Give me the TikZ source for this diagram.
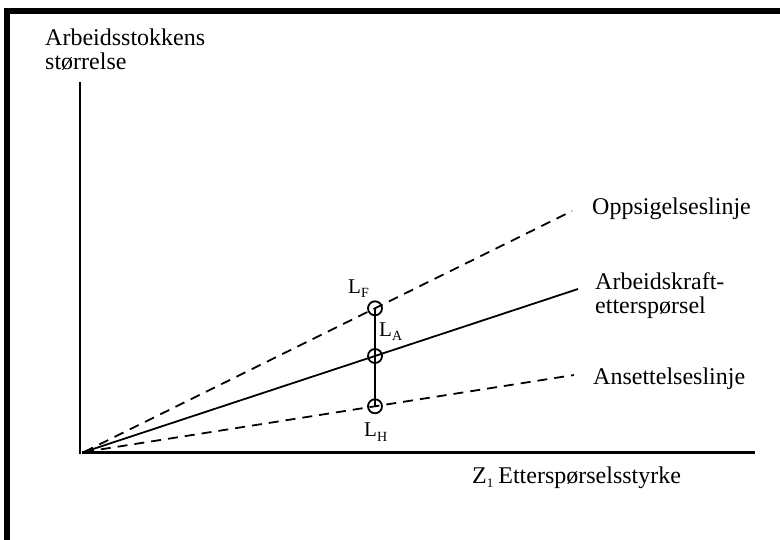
\documentclass[tikz,border=0pt]{standalone}
\usepackage{fontspec}
\setmainfont{Liberation Serif}
\begin{document}
\begin{tikzpicture}[x=1pt,y=-1pt,
  lbl/.style={anchor=base west,inner sep=0pt,font=\fontsize{24}{24}\selectfont},
  llbl/.style={anchor=base west,inner sep=0pt,font=\fontsize{21}{21}\selectfont},
  curve/.style={line width=1.8pt},
  dashcurve/.style={line width=1.8pt,dash pattern=on 10pt off 7pt},
  axis/.style={line width=2.6pt},
  ring/.style={circle,draw,line width=1.8pt,minimum size=14pt,inner sep=0pt}]
\useasboundingbox (0,0) rectangle (780,539);
% frame
\draw[line width=6pt] (7,560) -- (7,10.5) -- (800,10.5);
% axes
\coordinate (O) at (82,452.5);
\coordinate (Ytop) at (80,82);
\coordinate (Xend) at (755,452.5);
\draw[line width=2.2pt] (80,453.5) -- (Ytop);
\draw[axis] (O) -- (Xend);
% lines
\coordinate (S) at (84,452);
\coordinate (Fend) at (572,211);
\coordinate (Aend) at (578,289);
\coordinate (Hend) at (574,375);
\draw[dashcurve] (S) -- (Fend);
\draw[curve] (S) -- (Aend);
\draw[dashcurve] (S) -- (Hend);
% circles
\node[ring] (LF) at (375,308.3) {};
\node[ring] (LA) at (375,356) {};
\node[ring] (LH) at (375,406.3) {};
\draw[line width=1.8pt] (LF.center) -- (LH.center);
% labels
\node[llbl] (tF) at (348,293) {L\raisebox{-4pt}{\fontsize{14}{14}\selectfont F}};
\node[llbl] (tA) at (379,336) {L\raisebox{-4pt}{\fontsize{14}{14}\selectfont A}};
\node[llbl] (tH) at (364,436) {L\raisebox{-5pt}{\fontsize{14}{14}\selectfont H}};
\node[lbl] (y1) at (45,45) {Arbeidsstokkens};
\node[lbl] (y2) at (45,69) {størrelse};
\node[lbl] (op) at (592,214) {Oppsigelseslinje};
\node[lbl] (ak1) at (595,289) {Arbeidskraft-};
\node[lbl] (ak2) at (595,313) {etterspørsel};
\node[lbl] (an) at (593,384) {Ansettelseslinje};
\node[lbl] (xl) at (472,483) {Z\raisebox{-4pt}{\fontsize{13}{13}\selectfont 1}\hspace{5pt}Etterspørselsstyrke};
\end{tikzpicture}
\end{document}
